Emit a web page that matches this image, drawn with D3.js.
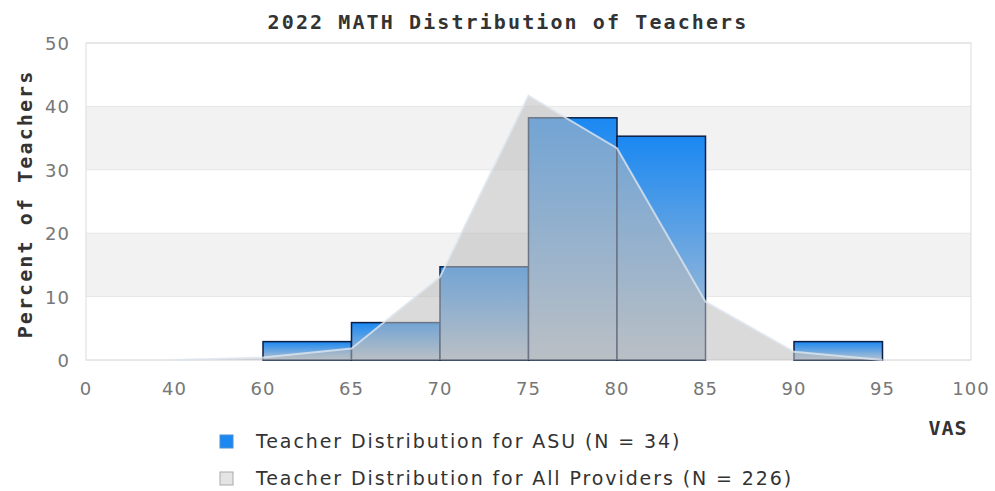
<!DOCTYPE html>
<html><head><meta charset="utf-8">
<script src="https://cdn.jsdelivr.net/npm/d3@7"></script>
<style>body{margin:0;background:#fff}svg{display:block}</style>
</head><body><svg id="c" width="995" height="491"></svg>
<script>
const xTicks = ["0","40","60","65","70","75","80","85","90","95","100"];
const yTicks = [0,10,20,30,40,50];
const asuBins = [["60","65"],["65","70"],["70","75"],["75","80"],["80","85"],["90","95"]];
const asuValues = [2.9,5.9,14.7,38.2,35.3,2.9];
const allPoints = ["40","60","65","70","75","80","85","90","95"];
const allValues = [0,0.4,1.8,13.1,41.7,33.4,9.2,1.3,0];
const title = "2022 MATH Distribution of Teachers";
const yLabel = "Percent of Teachers";
const xLabel = "VAS";
const legendLabels = ["Teacher Distribution for ASU (N = 34)","Teacher Distribution for All Providers (N = 226)"];

const svg = d3.select("#c");
const L=86,R=971,T=43,B=360;
const x = d3.scalePoint().domain(xTicks).range([L,R]);
const y = d3.scaleLinear().domain([0,50]).range([B,T]);
const mono = "'DejaVu Sans Mono', monospace";
const sans = "'DejaVu Sans', sans-serif";

const defs = svg.append("defs");
const g1 = defs.append("linearGradient").attr("id","bg").attr("x1",0).attr("y1",0).attr("x2",0).attr("y2",1);
g1.append("stop").attr("offset","0%").attr("stop-color","#1a88f2");
g1.append("stop").attr("offset","100%").attr("stop-color","#b8c4d0");

// bands
for(let i=0;i<yTicks.length-1;i++){
  if(i%2===1) svg.append("rect").attr("x",L).attr("width",R-L)
     .attr("y",y(yTicks[i+1])).attr("height",y(yTicks[i])-y(yTicks[i+1])).attr("fill","#f2f2f2");
}
svg.append("g").selectAll("line").data(yTicks).join("line")
  .attr("x1",L).attr("x2",R).attr("y1",d=>y(d)).attr("y2",d=>y(d)).attr("stroke","#e6e6e6");
svg.append("rect").attr("x",L).attr("y",T).attr("width",R-L).attr("height",B-T)
  .attr("fill","none").attr("stroke","#dcdcdc");

// bars
svg.append("g").selectAll("rect").data(asuBins).join("rect")
  .attr("x",d=>x(d[0])).attr("width",d=>x(d[1])-x(d[0]))
  .attr("y",(d,i)=>y(asuValues[i])).attr("height",(d,i)=>B-y(asuValues[i]))
  .attr("fill","url(#bg)").attr("stroke","#0d1f44").attr("stroke-width",1.5);

// area
const pts = allPoints.map((p,i)=>[x(p),y(allValues[i])]);
const area = d3.area().x(d=>d[0]).y0(B).y1(d=>d[1]);
svg.append("path").datum(pts).attr("d",area).attr("fill","#bcbcbc").attr("fill-opacity",0.55);
svg.append("path").datum(pts).attr("d",d3.line()).attr("fill","none")
  .attr("stroke","#dde6ef").attr("stroke-opacity",0.8).attr("stroke-width",2);

// axes labels
svg.append("g").selectAll("text").data(yTicks).join("text")
  .attr("x",70).attr("y",d=>y(d)+7).attr("text-anchor","end")
  .attr("font-family",sans).attr("font-size",18).attr("letter-spacing",1).attr("fill","#777").text(d=>d);
svg.append("g").selectAll("text").data(xTicks).join("text")
  .attr("x",d=>x(d)).attr("y",395).attr("text-anchor","middle")
  .attr("font-family",sans).attr("font-size",18).attr("letter-spacing",1).attr("fill","#777").text(d=>d);

svg.append("text").attr("x",508).attr("y",29).attr("text-anchor","middle")
  .attr("font-family",mono).attr("font-weight","bold").attr("font-size",20)
  .attr("letter-spacing",2.1).attr("fill","#333").text(title);
svg.append("text").attr("transform","translate(32,204) rotate(-90)").attr("text-anchor","middle")
  .attr("font-family",mono).attr("font-weight","bold").attr("font-size",20)
  .attr("letter-spacing",2.1).attr("fill","#333").text(yLabel);
svg.append("text").attr("x",948).attr("y",435).attr("text-anchor","middle")
  .attr("font-family",mono).attr("font-weight","bold").attr("font-size",20)
  .attr("letter-spacing",1).attr("fill","#333").text(xLabel);

// legend
const lg = svg.append("g").selectAll("g").data(legendLabels).join("g")
  .attr("transform",(d,i)=>`translate(220,${435+i*37})`);
lg.append("rect").attr("width",13).attr("height",13)
  .attr("fill",(d,i)=>i===0?"#1a88f2":"#e4e4e4").attr("stroke",(d,i)=>i===0?"#4a8fd0":"#aaa").attr("stroke-width",1);
lg.append("text").attr("x",36).attr("y",13).attr("font-family",sans).attr("font-size",19)
  .attr("letter-spacing",1.9).attr("fill","#333").text(d=>d);
</script></body></html>
